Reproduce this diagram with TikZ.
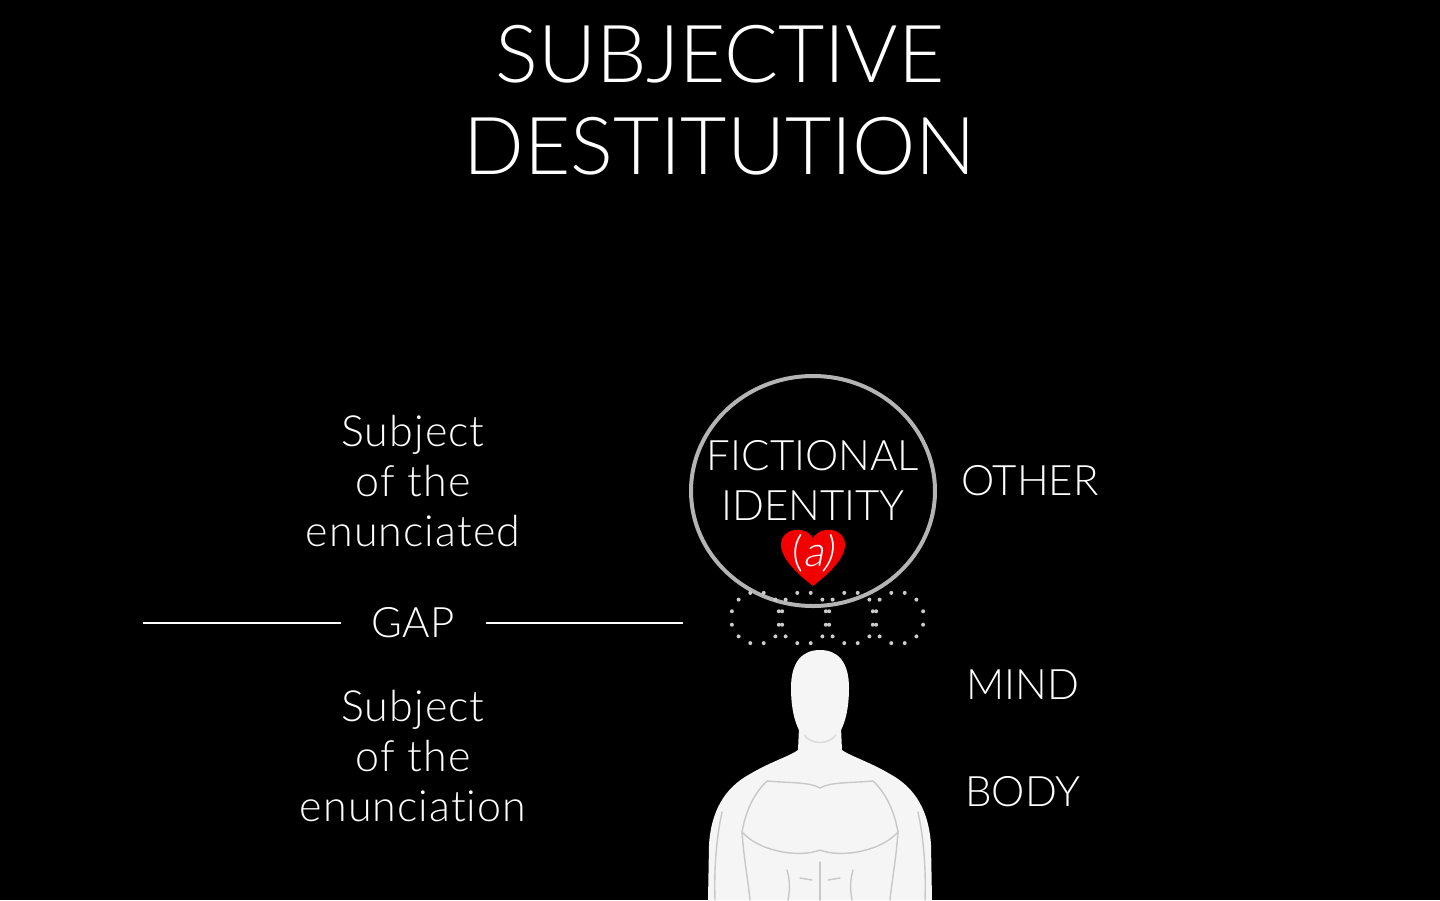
\documentclass[tikz,border=0pt]{standalone}
\usepackage{fontspec}
\IfFontExistsTF{Lato Light}{%
  \setmainfont{Lato Light}[Ligatures={NoCommon}]%
  \newfontfamily\oblfont{Lato Light}[FakeSlant=0.2]%
  \newcommand\wideface{\addfontfeature{LetterSpace=2.5}}%
}{%
  \setmainfont{TeX Gyre Heros}%
  \newfontfamily\oblfont{TeX Gyre Heros}[FakeSlant=0.2]%
  \newcommand\wideface{}%
}
\definecolor{ringgray}{HTML}{B4B4B4}
\definecolor{dotgray}{HTML}{CCCCCC}
\definecolor{skin}{HTML}{F5F5F5}
\definecolor{musc}{HTML}{C8C8C8}
\definecolor{heartred}{HTML}{F20000}
\tikzset{
  title/.style={text=white, align=center, font=\fontsize{80}{92}\selectfont, inner sep=0pt},
  lbl/.style={text=white, align=center, font=\fontsize{42}{50}\selectfont, inner sep=0pt},
  lowlbl/.style={text=white, align=center, font=\fontsize{43}{50}\selectfont\wideface, inner sep=0pt},
  gapline/.style={draw=white, line width=1.6pt},
  ring/.style={draw=ringgray, line width=4pt},
  dotfill/.style={fill=dotgray},
  muscle/.style={draw=musc, line width=1.4pt, line cap=round},
}
\begin{document}
\begin{tikzpicture}[x=1pt,y=-1pt]
\fill[black] (0,0) rectangle (1440,900);
\useasboundingbox (0,0) rectangle (1440,900);

% title
\node[title] (title) at (720,100) {SUBJECTIVE\\DESTITUTION};

% left labels
\node[lowlbl] (enunciated) at (413,481) {Subject\\of the\\enunciated};
\node[lbl] (gap) at (413,623) {GAP};
\node[lowlbl] (enunciation) at (413,756) {Subject\\of the\\enunciation};
\coordinate (gl1) at (143,623);
\coordinate (gl2) at (341,623);
\coordinate (gr1) at (486,623);
\coordinate (gr2) at (683,623);
\draw[gapline] (gl1) -- (gl2);
\draw[gapline] (gr1) -- (gr2);

% right labels
\node[lbl] (other) at (1030,481) {OTHER};
\node[lbl] (mind) at (1023,685) {MIND};
\node[lbl] (body) at (1023,792) {BODY};

% body figure
\begin{scope}
\fill[skin] (799,728) -- (798,750)
  .. controls (790,756) and (770,762) .. (750,774)
  .. controls (724,788) and (711,812) .. (709,845)
  -- (708,900) -- (932,900) -- (931,845)
  .. controls (929,812) and (916,788) .. (890,774)
  .. controls (870,762) and (850,756) .. (842,750)
  -- (841,728) -- cycle;
% head
\fill[skin] (820,650)
  .. controls (838,650) and (849,662) .. (849,688)
  .. controls (849,715) and (842,744) .. (820,745)
  .. controls (798,744) and (791,715) .. (791,688)
  .. controls (791,662) and (802,650) .. (820,650) -- cycle;
\draw[muscle,draw opacity=0.6] (804,735) .. controls (812,745) and (828,745) .. (836,735);
% chest top
\draw[muscle] (767,781) .. controls (790,783) and (810,782) .. (820,788) .. controls (830,782) and (850,783) .. (873,781);
% deltoid separations
\draw[muscle] (767,781) .. controls (752,795) and (745,815) .. (742,832);
\draw[muscle] (873,781) .. controls (888,795) and (895,815) .. (898,832);
% pec bottom
\draw[muscle] (742,832) .. controls (760,852) and (800,858) .. (820,850) .. controls (840,858) and (880,852) .. (898,832);
% arms
\draw[muscle] (742,832) .. controls (744,860) and (748,880) .. (750,900);
\draw[muscle] (898,832) .. controls (896,860) and (892,880) .. (890,900);
\draw[muscle] (722,812) .. controls (716,840) and (714,870) .. (715,900);
\draw[muscle] (918,812) .. controls (924,840) and (926,870) .. (925,900);
% abs
\draw[muscle] (820,862) -- (820,900);
\draw[muscle] (800,878) -- (812,880);
\draw[muscle] (828,880) -- (840,878);
\draw[muscle] (787,870) .. controls (790,880) and (790,890) .. (788,900);
\draw[muscle] (853,870) .. controls (850,880) and (850,890) .. (852,900);
\end{scope}

% big circle
\draw[ring] (813,491) ellipse [x radius=122, y radius=115];
\node[lbl] (fictional) at (813,480) {FICTIONAL\\IDENTITY};

% heart with (a)
\fill[heartred] (813,586)
  .. controls (791,569) and (780,555) .. (781,543)
  .. controls (782,529) and (804,524) .. (813,538)
  .. controls (822,524) and (844,529) .. (845,543)
  .. controls (846,555) and (835,569) .. (813,586) -- cycle;
\node[lbl] (a) at (813,553) {(\oblfont a)};

% dotted chain circles
\foreach \cx in {757,804,851,898}{
  \foreach \ang in {0,30,...,330}{
    \fill[dotfill] ({\cx+26*cos(\ang+15)},{618+26*sin(\ang+15)}) circle [radius=2pt];
  }
}
\end{tikzpicture}
\end{document}
